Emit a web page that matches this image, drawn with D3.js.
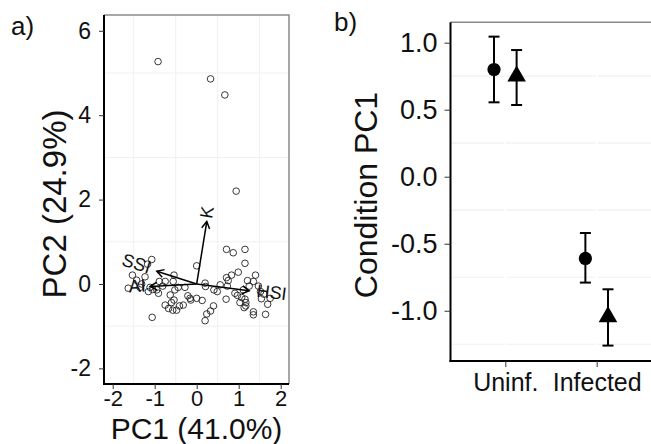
<!DOCTYPE html>
<html><head><meta charset="utf-8">
<script src="https://cdn.jsdelivr.net/npm/d3@7"></script>
<style>body{margin:0;background:#fff}svg{display:block;font-family:"Liberation Sans",Arial,sans-serif}</style>
</head><body>
<svg id="c" width="651" height="444"></svg>
<script>
// ---- Panel a data: PCA scores (PC1, PC2) ----
const pc1 = [-0.92,0.33,0.67,0.94,0.00,0.71,0.87,1.15,1.15,0.99,-1.07,-1.17,-1.53,-1.63,-1.43,-1.31,-1.23,-1.35,-1.15,-1.05,-0.91,-0.75,-0.54,-0.56,-0.44,-0.28,-0.63,-0.75,-0.60,-0.67,-0.57,-0.48,-0.32,-0.21,-0.14,0.00,0.13,0.20,0.21,0.41,0.56,0.71,0.75,0.83,0.73,0.40,0.33,0.24,0.20,0.70,0.91,0.97,1.07,1.15,1.17,1.21,1.35,1.40,1.47,1.52,1.60,1.54,1.75,1.69,1.13,1.17,1.35,1.35,1.64,-1.06,-0.81,-0.95,-1.11,-0.52,-0.16,0.49,-0.54,-0.89,-0.41,1.11,1.25,1.03];
const pc2 = [5.27,4.86,4.48,2.20,0.43,0.82,0.74,0.82,0.49,0.28,0.58,0.47,0.21,-0.10,0.09,0.00,0.17,-0.08,-0.18,-0.13,-0.22,0.06,0.21,0.06,-0.08,-0.08,-0.26,-0.50,-0.44,-0.58,-0.62,-0.62,-0.50,-0.28,-0.38,-0.34,-0.39,0.02,-0.06,-0.14,-0.02,0.15,0.08,0.21,-0.05,-0.52,-0.64,-0.71,-0.87,-0.36,-0.22,-0.27,-0.32,-0.36,-0.44,0.08,0.06,0.21,-0.05,-0.18,-0.24,-0.35,-0.34,-0.48,-0.56,-0.52,-0.66,-0.73,-0.72,-0.79,-0.05,-0.14,-0.08,-0.14,-0.34,-0.18,-0.38,0.06,-0.52,-0.14,-0.05,-0.44];
// loading vectors
const varNames = ["K","SSI","AI","HSI"];
const varX = [0.24,-0.95,-1.11,1.25];
const varY = [1.48,0.30,-0.06,-0.16];
const aXTicks = [-2,-1,0,1,2];
const aYTicks = [-2,0,2,4,6];

// ---- Panel b data ----
const conditions = ["Uninf.","Infected"];
const circleMean = [0.80,-0.61];
const circleLo = [0.555,-0.79];
const circleHi = [1.045,-0.42];
const triMean = [0.75,-1.045];
const triLo = [0.535,-1.26];
const triHi = [0.945,-0.84];
const bYTicks = [1.0,0.5,0.0,-0.5,-1.0];

const svg = d3.select("#c");
const FF = "Liberation Sans, Arial";

// ================= Panel a =================
const A = {l:104,r:289,t:15,b:384};
const xa = d3.scaleLinear().domain([-2.207,2.198]).range([A.l,A.r]);
const ya = d3.scaleLinear().domain([-2.37,6.374]).range([A.b,A.t]);
const ga = svg.append("g");
// minor grid
[-1.5,-0.5,0.5,1.5].forEach(v=>ga.append("line").attr("x1",xa(v)).attr("x2",xa(v)).attr("y1",A.t).attr("y2",A.b).attr("stroke","#f0f0f0").attr("stroke-width",1));
[-1,1,3,5].forEach(v=>ga.append("line").attr("y1",ya(v)).attr("y2",ya(v)).attr("x1",A.l).attr("x2",A.r).attr("stroke","#f0f0f0").attr("stroke-width",1));
// border top/right
ga.append("path").attr("d",`M${A.l},${A.t}H${A.r}V${A.b}`).attr("fill","none").attr("stroke","#8a8a8a").attr("stroke-width",1.5);
// points
ga.append("g").selectAll("circle").data(pc1.map((d,i)=>[d,pc2[i]])).join("circle")
  .attr("cx",d=>xa(d[0])).attr("cy",d=>ya(d[1])).attr("r",3.3)
  .attr("fill","none").attr("stroke","#222").attr("stroke-width",0.9);
// arrows
varNames.forEach((n,i)=>{
  const x0=xa(0),y0=ya(0),x1=xa(varX[i]),y1=ya(varY[i]);
  ga.append("line").attr("x1",x0).attr("y1",y0).attr("x2",x1).attr("y2",y1).attr("stroke","#000").attr("stroke-width",1.5);
  const ang=Math.atan2(y1-y0,x1-x0), L=8, s=Math.PI/6;
  ga.append("path").attr("d",`M${x1-L*Math.cos(ang-s)},${y1-L*Math.sin(ang-s)}L${x1},${y1}L${x1-L*Math.cos(ang+s)},${y1-L*Math.sin(ang+s)}`)
    .attr("fill","none").attr("stroke","#000").attr("stroke-width",1.5);
  const deg = Math.atan(varY[i]/varX[i])*180/Math.PI;
  const t = ga.append("text").attr("font-size",18).attr("fill","#111").text(n)
    .attr("transform",`translate(${x1},${y1}) rotate(${-deg})`).attr("dominant-baseline","middle");
  const w = t.node().getComputedTextLength();
  const hj = 0.5*(1-1.5*Math.sign(varX[i]));
  t.attr("x",-hj*w);
});
// axes
ga.append("line").attr("x1",A.l).attr("x2",A.l).attr("y1",A.t).attr("y2",A.b+1).attr("stroke","#000").attr("stroke-width",2);
ga.append("line").attr("x1",A.l-1).attr("x2",A.r).attr("y1",A.b).attr("y2",A.b).attr("stroke","#000").attr("stroke-width",2);
const axL = ga.append("g").attr("transform",`translate(${A.l},0)`).call(d3.axisLeft(ya).tickValues(aYTicks).tickFormat(d=>String(d)).tickSize(5).tickPadding(8));
axL.select(".domain").remove();
axL.selectAll("text").attr("font-size",23).attr("fill","#111").attr("font-family",FF);
axL.selectAll("line").attr("stroke","#333");
const axB = ga.append("g").attr("transform",`translate(0,${A.b})`).call(d3.axisBottom(xa).tickValues(aXTicks).tickFormat(d=>String(d)).tickSize(5).tickPadding(1.5));
axB.select(".domain").remove();
axB.selectAll("text").attr("font-size",22).attr("fill","#111").attr("font-family",FF);
axB.selectAll("line").attr("stroke","#333");
svg.append("text").attr("x",196.5).attr("y",438.5).attr("text-anchor","middle").attr("font-size",30).attr("fill","#111").text("PC1 (41.0%)");
svg.append("text").attr("transform","translate(66,204) rotate(-90)").attr("text-anchor","middle").attr("font-size",33).attr("fill","#111").text("PC2 (24.9%)");
svg.append("text").attr("x",11).attr("y",35).attr("font-size",26).attr("fill","#111").text("a)");

// ================= Panel b =================
const B = {l:450.5,r:651.5,t:22.3,b:361};
const xb = d3.scalePoint().domain(conditions).range([B.l,B.r]).padding(0.6);
const yb = d3.scaleLinear().domain([-1.375,1.152]).range([B.b,B.t]);
const gb = svg.append("g");
[0.75,0.25,-0.25,-0.75,-1.25].forEach(v=>gb.append("line").attr("y1",yb(v)).attr("y2",yb(v)).attr("x1",B.l).attr("x2",B.r).attr("stroke","#f0f0f0").attr("stroke-width",1.2));
conditions.forEach(c=>gb.append("line").attr("x1",xb(c)).attr("x2",xb(c)).attr("y1",B.t).attr("y2",B.b).attr("stroke","#fff").attr("stroke-width",2));
gb.append("line").attr("x1",B.l).attr("x2",B.r).attr("y1",B.t).attr("y2",B.t).attr("stroke","#8a8a8a").attr("stroke-width",1.5);
const dodge = 11.3, cap = 5.5;
function errbar(x,lo,hi){
  gb.append("line").attr("x1",x).attr("x2",x).attr("y1",yb(lo)).attr("y2",yb(hi)).attr("stroke","#000").attr("stroke-width",2);
  [lo,hi].forEach(v=>gb.append("line").attr("x1",x-cap).attr("x2",x+cap).attr("y1",yb(v)).attr("y2",yb(v)).attr("stroke","#000").attr("stroke-width",2));
}
conditions.forEach((c,i)=>{
  const xc = xb(c)-dodge, xt = xb(c)+dodge;
  errbar(xc,circleLo[i],circleHi[i]);
  errbar(xt,triLo[i],triHi[i]);
  gb.append("circle").attr("cx",xc).attr("cy",yb(circleMean[i])).attr("r",6.6).attr("fill","#000");
  gb.append("path").attr("d",d3.symbol(d3.symbolTriangle,150)()).attr("transform",`translate(${xt},${yb(triMean[i])})`).attr("fill","#000");
});
gb.append("line").attr("x1",B.l).attr("x2",B.l).attr("y1",B.t).attr("y2",B.b+1).attr("stroke","#000").attr("stroke-width",2);
gb.append("line").attr("x1",B.l-1).attr("x2",B.r).attr("y1",B.b).attr("y2",B.b).attr("stroke","#000").attr("stroke-width",2);
const bL = gb.append("g").attr("transform",`translate(${B.l},0)`).call(d3.axisLeft(yb).tickValues(bYTicks).tickFormat(d=>d.toFixed(1)).tickSize(6).tickPadding(7));
bL.select(".domain").remove();
bL.selectAll("text").attr("font-size",27).attr("fill","#111").attr("font-family",FF);
bL.selectAll("line").attr("stroke","#333");
const bB = gb.append("g").attr("transform",`translate(0,${B.b})`).call(d3.axisBottom(xb).tickSize(6).tickPadding(6));
bB.select(".domain").remove();
bB.selectAll("text").attr("font-size",25).attr("fill","#111").attr("font-family",FF);
bB.selectAll("line").attr("stroke","#333");
svg.append("text").attr("transform","translate(377,195) rotate(-90)").attr("text-anchor","middle").attr("font-size",32).attr("fill","#111").text("Condition PC1");
svg.append("text").attr("x",334).attr("y",31).attr("font-size",26).attr("fill","#111").text("b)");
</script>
</body></html>
